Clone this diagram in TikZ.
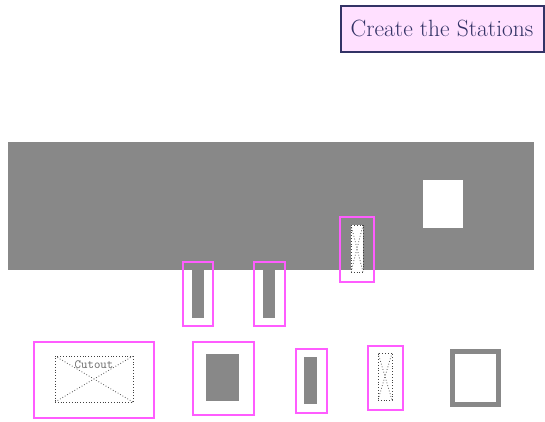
\documentclass[tikz,border=0pt]{standalone}
\usepackage{xcolor}
\usepackage{tikz}
\usetikzlibrary{positioning}

\definecolor{wallgray}{HTML}{888888}
\definecolor{selpink}{HTML}{FF5CFF}
\definecolor{titlefill}{HTML}{FFE0FF}
\definecolor{titleink}{HTML}{333366}

\begin{document}
\begin{tikzpicture}[
    x=1pt, y=-1pt,
    station/.style={rectangle, draw=selpink, line width=1.5pt, inner sep=0pt},
    solid part/.style={rectangle, fill=wallgray, inner sep=0pt},
    cutout/.style={rectangle, draw=black!75, fill=white, dotted, line width=0.8pt, inner sep=0pt,
        path picture={\draw[black!65, dotted, line width=0.8pt]
            (path picture bounding box.north west) -- (path picture bounding box.south east)
            (path picture bounding box.north east) -- (path picture bounding box.south west);}},
    title/.style={rectangle, draw=titleink, fill=titlefill, line width=2pt, text=titleink, inner sep=0pt, font=\fontsize{23.5}{26}\selectfont}
]
\useasboundingbox (0,0) rectangle (545,421);
% title
\node[title, minimum width=203pt, minimum height=46pt] (heading) at (442,28.5) {Create the Stations};
% wall with opening
\node[solid part, minimum width=526pt, minimum height=128pt] (wall) at (271,206) {};
\node[rectangle, fill=white, inner sep=0pt, minimum width=40pt, minimum height=48pt] (window) at (443,204) {};
\node[station, minimum width=34pt, minimum height=65pt] (wallcutbox) at (357,249.5) {};
\node[cutout, minimum width=12pt, minimum height=47pt] (wallcut) at (357,248.5) {};
% posts below the wall
\node[solid part, minimum width=12pt, minimum height=56pt] (post1) at (198,290) {};
\node[station, minimum width=30pt, minimum height=64pt] (post1box) at (198,294) {};
\node[solid part, minimum width=12pt, minimum height=56pt] (post2) at (269,290) {};
\node[station, minimum width=31pt, minimum height=64pt] (post2box) at (269.5,294) {};
% palette
\node[station, minimum width=120pt, minimum height=76pt] (cutbox) at (94,380) {};
\node[cutout, minimum width=78pt, minimum height=46pt] (cut) at (94,379) {};
\node[text=black!60, font=\ttfamily\fontsize{12.5}{14}\selectfont, inner sep=0pt] (cutlabel) at (94,365) {Cutout};
\node[station, minimum width=61pt, minimum height=73pt] (blockbox) at (223.5,378.5) {};
\node[solid part, minimum width=33pt, minimum height=47pt] (block) at (222.5,377.5) {};
\node[station, minimum width=31pt, minimum height=64pt] (barbox) at (311.5,381) {};
\node[solid part, minimum width=13pt, minimum height=47pt] (bar) at (310.5,380.5) {};
\node[station, minimum width=35pt, minimum height=64pt] (slotbox) at (385.5,378) {};
\node[cutout, minimum width=14pt, minimum height=47pt] (slot) at (385,376.5) {};
\node[rectangle, draw=wallgray, line width=5pt, inner sep=0pt, minimum width=46pt, minimum height=53pt] (frame) at (475.5,378) {};
\end{tikzpicture}
\end{document}
